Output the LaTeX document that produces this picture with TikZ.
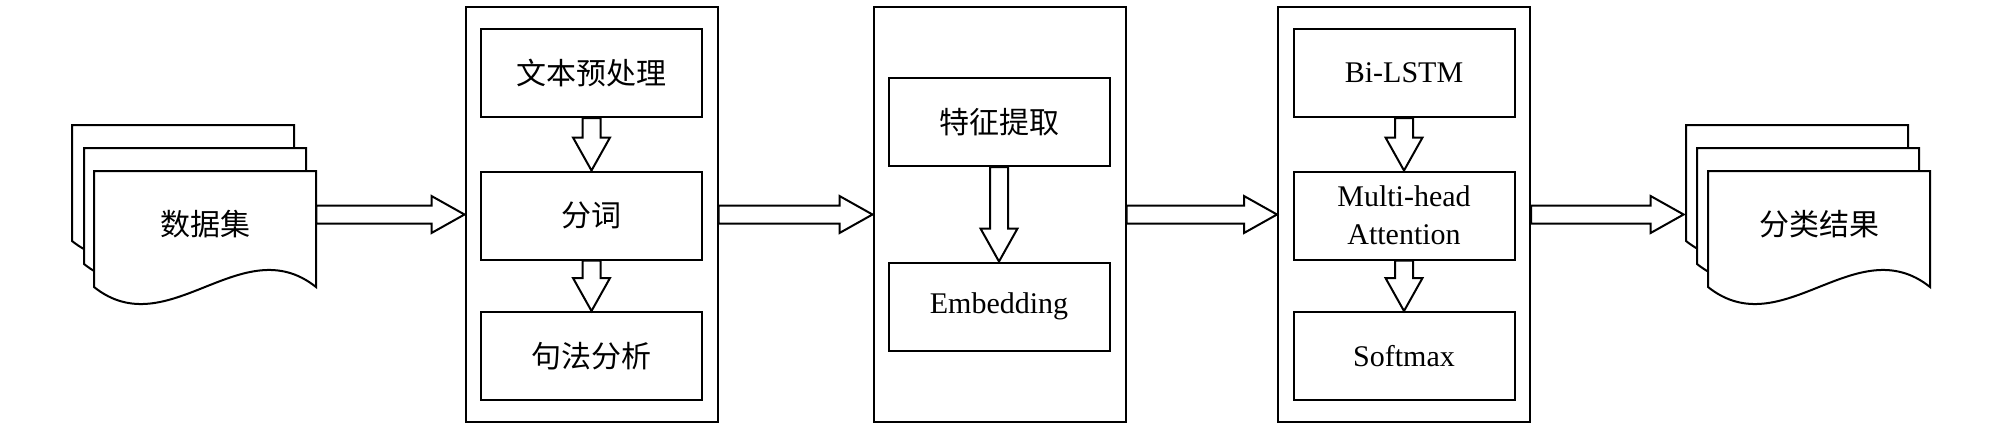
\documentclass[tikz,border=0pt]{standalone}
\usepackage{fontspec}
\setmainfont{Liberation Serif}
\newfontfamily\cjk{Noto Sans CJK SC}
\usetikzlibrary{calc}

\newcommand{\docpage}[2]{%
    \filldraw[page] (#1,#2) -- ++(222,0) -- ++(0,116)
        .. controls +(-74,-59) and +(74,59) .. ++(-222,0) -- cycle;}
\newcommand{\hollowright}[2]{%
    \draw[blockarrow] ($(#1)+(0,-9)$) -- ($(#1 -| #2)+(-33,-9)$)
        -- ($(#1 -| #2)+(-33,-18.5)$) -- (#1 -| #2)
        -- ($(#1 -| #2)+(-33,18.5)$) -- ($(#1 -| #2)+(-33,9)$)
        -- ($(#1)+(0,9)$) -- cycle;}
\newcommand{\hollowdown}[2]{%
    \draw[blockarrow] ($(#1)+(-9,0)$) -- ($(#1 |- #2)+(-9,-33)$)
        -- ($(#1 |- #2)+(-18.5,-33)$) -- (#1 |- #2)
        -- ($(#1 |- #2)+(18.5,-33)$) -- ($(#1 |- #2)+(9,-33)$)
        -- ($(#1)+(9,0)$) -- cycle;}

\begin{document}
\begin{tikzpicture}[
    x=0.5pt, y=-0.5pt,
    font=\fontsize{15pt}{19pt}\selectfont,
    layer/.style={rectangle, draw=black, line width=1pt,
        minimum width=126pt, minimum height=207.5pt, inner sep=0pt},
    unit/.style={rectangle, draw=black, line width=1pt, fill=white,
        minimum width=110.5pt, minimum height=44pt, inner sep=2pt, align=center},
    docnode/.style={rectangle, minimum width=111pt, minimum height=58pt, inner sep=0pt},
    page/.style={draw=black, fill=white, line width=1pt, line join=miter},
    blockarrow/.style={draw=black, fill=white, line width=1pt, line join=miter}
]
    \useasboundingbox (0,0) rectangle (2008,429);

    % input documents
    \docpage{72}{125}
    \docpage{84}{148}
    \docpage{94}{171}
    \node[docnode] (data) at (205,224) {\cjk 数据集};

    % three layers
    \node[layer] (lay1) at (591.5,214.5) {};
    \node[layer] (lay2) at (999.5,214.5) {};
    \node[layer] (lay3) at (1404,214.5) {};

    \node[unit] (prep) at (591.5,73) {\cjk 文本预处理};
    \node[unit] (seg) at (591.5,215.5) {\cjk 分词};
    \node[unit] (syn) at (591.5,356) {\cjk 句法分析};

    \node[unit] (feat) at (999,122) {\cjk 特征提取};
    \node[unit] (emb) at (999,306.5) {Embedding};

    \node[unit] (lstm) at (1404,73) {Bi-LSTM};
    \node[unit] (att) at (1404,215.5) {Multi-head\\Attention};
    \node[unit] (soft) at (1404,356) {Softmax};

    % output documents
    \docpage{1686}{125}
    \docpage{1697}{148}
    \docpage{1708}{171}
    \node[docnode] (result) at (1819,224) {\cjk 分类结果};
    \coordinate (dataout) at (data.east |- lay1.west);
    \coordinate (resin) at ($(result.west)+(-24,0)$);

    \hollowdown{prep.south}{seg.north}
    \hollowdown{seg.south}{syn.north}
    \hollowdown{feat.south}{emb.north}
    \hollowdown{lstm.south}{att.north}
    \hollowdown{att.south}{soft.north}

    \hollowright{dataout}{lay1.west}
    \hollowright{lay1.east}{lay2.west}
    \hollowright{lay2.east}{lay3.west}
    \hollowright{lay3.east}{resin}
\end{tikzpicture}
\end{document}
